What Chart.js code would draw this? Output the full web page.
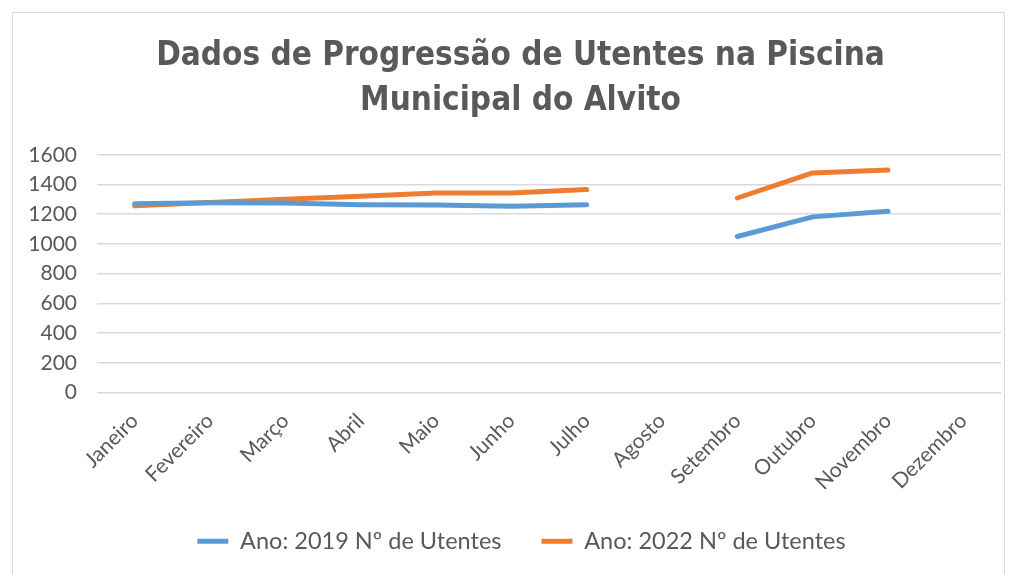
<!DOCTYPE html>
<html>
<head>
<meta charset="utf-8">
<script src="https://cdn.jsdelivr.net/npm/chart.js@4.4.1/dist/chart.umd.min.js"></script>
<style>
  html, body { margin: 0; padding: 0; background: #ffffff; }
  #wrap { position: relative; width: 1017px; height: 574px; overflow: hidden; }
  #frame { position: absolute; left: 12px; top: 12px; width: 993px; height: 600px; border: 1.5px solid #d9d9d9; box-sizing: border-box; }
  canvas { position: absolute; left: 0; top: 0; }
</style>
</head>
<body>
<div id="wrap">
  <div id="frame"></div>
  <canvas id="c" width="1017" height="574"></canvas>
</div>
<script>
const titleLines = ["Dados de Progressão de Utentes na Piscina", "Municipal do Alvito"];
const months = ["Janeiro", "Fevereiro", "Março", "Abril", "Maio", "Junho", "Julho", "Agosto", "Setembro", "Outubro", "Novembro", "Dezembro"];
const series2019Label = "Ano: 2019 Nº de Utentes";
const series2022Label = "Ano: 2022 Nº de Utentes";
const utentes2019 = [1270, 1277, 1275, 1263, 1262, 1254, 1263, null, 1050, 1182, 1220, null];
const utentes2022 = [1256, 1279, 1300, 1320, 1342, 1342, 1366, null, 1309, 1478, 1497, null];
const yMin = 0, yMax = 1600, yStep = 200;

const textFont = "Lato, 'Open Sans', sans-serif";
const grey = "#595959";

const shiftBoxes = {
  id: "shiftBoxes",
  afterLayout(chart) {
    const L = chart.legend;
    if (L) { L.left += 21; L.right += 21; }
    const T = chart.titleBlock;
    if (T) { T.left += 20; T.right += 20; }
  }
};

new Chart(document.getElementById("c"), {
  type: "line",
  data: {
    labels: months,
    datasets: [
      { label: series2019Label, data: utentes2019, borderColor: "#5B9BD5", backgroundColor: "#5B9BD5",
        borderWidth: 5, pointRadius: 0, borderCapStyle: "round", borderJoinStyle: "round", spanGaps: false, tension: 0 },
      { label: series2022Label, data: utentes2022, borderColor: "#ED7D31", backgroundColor: "#ED7D31",
        borderWidth: 5, pointRadius: 0, borderCapStyle: "round", borderJoinStyle: "round", spanGaps: false, tension: 0 }
    ]
  },
  plugins: [shiftBoxes],
  options: {
    responsive: false,
    animation: false,
    layout: { padding: { left: 0, right: 16, top: 34, bottom: 11 } },
    plugins: {
      title: {
        display: true,
        text: titleLines,
        color: grey,
        font: { family: "'DejaVu Sans Condensed', sans-serif", size: 33, weight: "bold", lineHeight: 1.36 },
        padding: { top: 0, bottom: 31 }
      },
      legend: {
        position: "bottom",
        labels: {
          color: grey,
          font: { family: textFont, size: 23.5 },
          usePointStyle: true,
          pointStyle: "line",
          pointStyleWidth: 31,
          padding: 40
        }
      },
      tooltip: { enabled: false }
    },
    scales: {
      x: {
        offset: true,
        grid: { display: false, drawTicks: false },
        border: { display: false },
        ticks: { color: grey, font: { family: textFont, size: 21 }, minRotation: 45, maxRotation: 45, padding: 16, autoSkip: false },
        afterFit: (s) => { s.height = 97; }
      },
      y: {
        min: yMin, max: yMax,
        grid: { color: "#d9d9d9", lineWidth: 1.5, drawTicks: false },
        border: { display: false },
        ticks: { stepSize: yStep, color: grey, font: { family: textFont, size: 21 }, padding: 20, autoSkip: false,
                 callback: (v) => String(v) },
        afterFit: (s) => { s.width = 97; }
      }
    }
  }
});
</script>
</body>
</html>
